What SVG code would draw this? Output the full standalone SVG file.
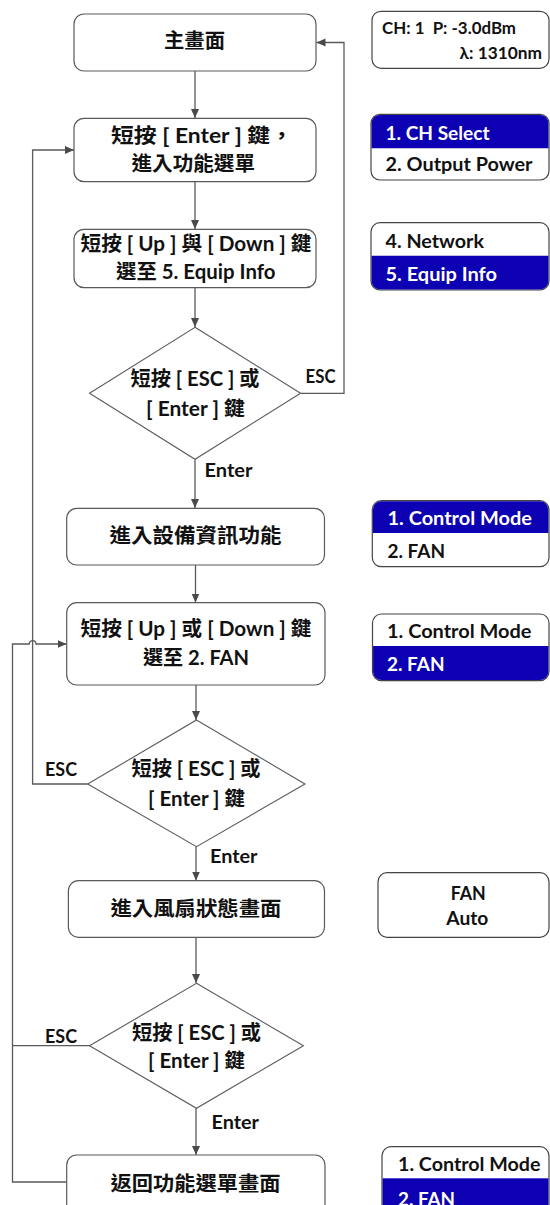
<svg xmlns="http://www.w3.org/2000/svg" width="550" height="1205" viewBox="0 0 550 1205">
<style>
.node{fill:#fff;stroke:#5a5a5a;stroke-width:1.2}
.dia{fill:#fff;stroke:#5a5a5a;stroke-width:1.1}
.pnl{fill:#fff;stroke:#454545;stroke-width:1.2}
.blue{fill:#0c00b2}
.conn{fill:none;stroke:#5a5a5a;stroke-width:1.3}
.t{font-family:Lato,"Noto Sans CJK TC","Noto Sans",sans-serif;font-weight:700;fill:#111}
.n{font-size:20px}
.l{font-size:19px}
.p{font-size:19px}
.w{fill:#fff}
</style>
<defs>
<marker id="ah" markerWidth="10" markerHeight="10" refX="9" refY="4" orient="auto" markerUnits="userSpaceOnUse"><path d="M0,0 L9,4 L0,8 z" fill="#4a4a4a"/></marker>
</defs>

<g id="connectors">
<line class="conn" x1="195" y1="71" x2="195" y2="118" marker-end="url(#ah)"/>
<line class="conn" x1="195" y1="182" x2="195" y2="229" marker-end="url(#ah)"/>
<line class="conn" x1="195" y1="288" x2="195" y2="327" marker-end="url(#ah)"/>
<polyline class="conn" points="300.6,393.3 344,393.3 344,42.5 316.5,42.5" marker-end="url(#ah)"/>
<line class="conn" x1="195" y1="459.3" x2="195" y2="508" marker-end="url(#ah)"/>
<line class="conn" x1="195.5" y1="565" x2="195.5" y2="602.5" marker-end="url(#ah)"/>
<line class="conn" x1="196" y1="685" x2="196" y2="720" marker-end="url(#ah)"/>
<polyline class="conn" points="87.7,784 32.6,784 32.6,150 74,150" marker-end="url(#ah)"/>
<line class="conn" x1="196" y1="846.7" x2="196" y2="880.5" marker-end="url(#ah)"/>
<line class="conn" x1="196" y1="937.3" x2="196" y2="983" marker-end="url(#ah)"/>
<line class="conn" x1="89.5" y1="1045.7" x2="12.5" y2="1045.7"/>
<line class="conn" x1="196" y1="1108.3" x2="196" y2="1155" marker-end="url(#ah)"/>
<path class="conn" d="M66.7,1182 H12.5 V644 H29.2 A3.4,3.4 0 0 1 36,644 H66.5" marker-end="url(#ah)"/>
<text class="t l" x="305.5" y="383" textLength="30" lengthAdjust="spacingAndGlyphs">ESC</text>
<text class="t l" x="204.5" y="477" textLength="48" lengthAdjust="spacingAndGlyphs">Enter</text>
<text class="t l" x="45" y="776" textLength="32" lengthAdjust="spacingAndGlyphs">ESC</text>
<text class="t l" x="210" y="863" textLength="47.5" lengthAdjust="spacingAndGlyphs">Enter</text>
<text class="t l" x="45" y="1043" textLength="32" lengthAdjust="spacingAndGlyphs">ESC</text>
<text class="t l" x="211.5" y="1129" textLength="47.5" lengthAdjust="spacingAndGlyphs">Enter</text>
</g>

<g id="n1"><rect class="node" x="74" y="14" width="242" height="57" rx="10"/>
<text class="t n" x="164" y="48" font-size="21" textLength="61" lengthAdjust="spacingAndGlyphs">主畫面</text></g>
<g id="n2"><rect class="node" x="74" y="118.3" width="242" height="63.4" rx="10"/>
<text class="t n" x="111" y="143" textLength="182" lengthAdjust="spacingAndGlyphs">短按 [ Enter ] 鍵，</text>
<text class="t n" x="131.5" y="171" textLength="123.5" lengthAdjust="spacingAndGlyphs">進入功能選單</text></g>
<g id="n3"><rect class="node" x="74" y="229.3" width="242" height="58.4" rx="10"/>
<text class="t n" x="80.5" y="251" textLength="231" lengthAdjust="spacingAndGlyphs">短按 [ Up ] 與 [ Down ] 鍵</text>
<text class="t n" x="116" y="279" textLength="159.5" lengthAdjust="spacingAndGlyphs">選至 5. Equip Info</text></g>
<g id="d1"><polygon class="dia" points="195,327.3 300.6,393.3 195,459.3 89.5,393.3"/>
<text class="t n" x="130.5" y="386" textLength="129" lengthAdjust="spacingAndGlyphs">短按 [ ESC ] 或</text>
<text class="t n" x="146" y="416" textLength="99" lengthAdjust="spacingAndGlyphs">[ Enter ] 鍵</text></g>
<g id="n4"><rect class="node" x="66.7" y="508.3" width="257.8" height="56.7" rx="10"/>
<text class="t n" x="109.5" y="543" textLength="172" lengthAdjust="spacingAndGlyphs">進入設備資訊功能</text></g>
<g id="n5"><rect class="node" x="66.7" y="602.7" width="258.3" height="82.3" rx="10"/>
<text class="t n" x="80.5" y="636" textLength="231" lengthAdjust="spacingAndGlyphs">短按 [ Up ] 或 [ Down ] 鍵</text>
<text class="t n" x="143" y="665" textLength="106" lengthAdjust="spacingAndGlyphs">選至 2. FAN</text></g>
<g id="d2"><polygon class="dia" points="196.5,720 305,784 196.5,846.7 87.7,784"/>
<text class="t n" x="131.5" y="776" textLength="129" lengthAdjust="spacingAndGlyphs">短按 [ ESC ] 或</text>
<text class="t n" x="148" y="806" textLength="97" lengthAdjust="spacingAndGlyphs">[ Enter ] 鍵</text></g>
<g id="n6"><rect class="node" x="68.4" y="880.7" width="256.1" height="56.6" rx="10"/>
<text class="t n" x="110.5" y="916" textLength="171" lengthAdjust="spacingAndGlyphs">進入風扇狀態畫面</text></g>
<g id="d3"><polygon class="dia" points="196.5,983.3 303.4,1045.7 196.5,1108.3 89.5,1045.7"/>
<text class="t n" x="132" y="1040" textLength="129" lengthAdjust="spacingAndGlyphs">短按 [ ESC ] 或</text>
<text class="t n" x="148" y="1068" textLength="97" lengthAdjust="spacingAndGlyphs">[ Enter ] 鍵</text></g>
<g id="n7"><rect class="node" x="66.7" y="1155" width="258.3" height="70" rx="10"/>
<text class="t n" x="110.5" y="1191" textLength="170" lengthAdjust="spacingAndGlyphs">返回功能選單畫面</text></g>

<g id="p1"><rect class="pnl" x="372" y="11.3" width="177" height="57" rx="9"/>
<text class="t" font-size="17" x="382" y="33.5" textLength="134" lengthAdjust="spacingAndGlyphs" xml:space="preserve">CH: 1  P: -3.0dBm</text>
<text class="t" font-size="17" x="459.5" y="58.5" textLength="82.5" lengthAdjust="spacingAndGlyphs">λ: 1310nm</text></g>
<g id="p2"><rect class="pnl" x="371" y="114.3" width="178" height="65.7" rx="9"/>
<path class="blue" d="M371.6,148.3 V123.3 a8.4,8.4 0 0 1 8.4,-8.4 H540 a8.4,8.4 0 0 1 8.4,8.4 V148.3 Z"/>
<text class="t p w" x="385.5" y="140" textLength="104" lengthAdjust="spacingAndGlyphs">1. CH Select</text>
<text class="t p" x="385.5" y="171" textLength="147" lengthAdjust="spacingAndGlyphs">2. Output Power</text></g>
<g id="p3"><rect class="pnl" x="371" y="222.7" width="178" height="67.3" rx="9"/>
<path class="blue" d="M371.6,255.7 V281 a8.4,8.4 0 0 0 8.4,8.4 H540 a8.4,8.4 0 0 0 8.4,-8.4 V255.7 Z"/>
<text class="t p" x="385.5" y="248" textLength="98.5" lengthAdjust="spacingAndGlyphs">4. Network</text>
<text class="t p w" x="385.5" y="280.5" textLength="111.5" lengthAdjust="spacingAndGlyphs">5. Equip Info</text></g>
<g id="p4"><rect class="pnl" x="372.3" y="500.7" width="176.7" height="66" rx="9"/>
<path class="blue" d="M372.9,533 V509.7 a8.4,8.4 0 0 1 8.4,-8.4 H540 a8.4,8.4 0 0 1 8.4,8.4 V533 Z"/>
<text class="t p w" x="387.5" y="525" textLength="144.5" lengthAdjust="spacingAndGlyphs">1. Control Mode</text>
<text class="t p" x="387.5" y="558" textLength="57.5" lengthAdjust="spacingAndGlyphs">2. FAN</text></g>
<g id="p5"><rect class="pnl" x="372.5" y="614" width="176.5" height="66.7" rx="9"/>
<path class="blue" d="M373.1,646 V671.7 a8.4,8.4 0 0 0 8.4,8.4 H540 a8.4,8.4 0 0 0 8.4,-8.4 V646 Z"/>
<text class="t p" x="387" y="638" textLength="144.5" lengthAdjust="spacingAndGlyphs">1. Control Mode</text>
<text class="t p w" x="387" y="671" textLength="57.5" lengthAdjust="spacingAndGlyphs">2. FAN</text></g>
<g id="p6"><rect class="pnl" x="378" y="872.7" width="171" height="64.6" rx="9"/>
<text class="t p" x="468.3" y="900" text-anchor="middle" textLength="35" lengthAdjust="spacingAndGlyphs">FAN</text>
<text class="t p" x="467.3" y="925" text-anchor="middle" textLength="42" lengthAdjust="spacingAndGlyphs">Auto</text></g>
<g id="p7"><rect class="pnl" x="382" y="1146.7" width="167" height="80" rx="9"/>
<rect class="blue" x="382.6" y="1178.3" width="165.8" height="30"/>
<text class="t p" x="398" y="1171" textLength="142.5" lengthAdjust="spacingAndGlyphs">1. Control Mode</text>
<text class="t p w" x="398" y="1206" textLength="57" lengthAdjust="spacingAndGlyphs">2. FAN</text></g>
</svg>
